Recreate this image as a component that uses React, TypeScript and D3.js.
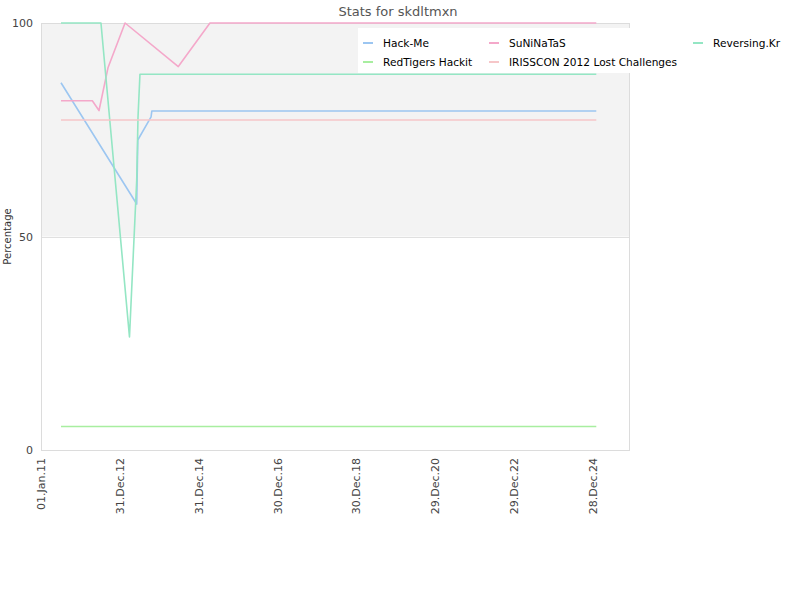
import React from "react";
import * as d3 from "d3";

const title = "Stats for skdltmxn";
const yLabel = "Percentage";
const yTicks = [0, 50, 100];
const xTickDates = ["2011-01-01", "2012-12-31", "2014-12-31", "2016-12-30", "2018-12-30", "2020-12-29", "2022-12-29", "2024-12-28"];
const xDomain = ["2011-01-01", "2025-12-05"];

const seriesNames = ["Hack-Me", "SuNiNaTaS", "Reversing.Kr", "RedTigers Hackit", "IRISSCON 2012 Lost Challenges"];
const seriesColors = ["#9cc6f1", "#f4a8ca", "#94e6c4", "#a8eea0", "#f6c6c8"];

const hackMeDates = ["2011-07-05", "2013-06-05", "2013-06-15", "2013-10-16", "2013-10-23", "2025-01-27"];
const hackMeValues = [86, 57.6, 72.6, 78, 79.4, 79.4];

const suninatasDates = ["2011-07-05", "2012-04-20", "2012-06-21", "2012-09-12", "2013-02-17", "2014-06-25", "2015-04-14", "2025-01-27"];
const suninatasValues = [81.8, 81.8, 79.5, 89.5, 100, 89.8, 100, 100];

const reversingDates = ["2011-07-05", "2012-07-09", "2013-03-30", "2013-06-05", "2013-06-17", "2013-07-05", "2025-01-27"];
const reversingValues = [100, 100, 26.5, 63.2, 78, 88, 88];

const redTigersDates = ["2011-07-05", "2025-01-27"];
const redTigersValues = [5.5, 5.5];

const irissconDates = ["2011-07-05", "2025-01-27"];
const irissconValues = [77.3, 77.3];

const seriesDates = [hackMeDates, suninatasDates, reversingDates, redTigersDates, irissconDates];
const seriesValues = [hackMeValues, suninatasValues, reversingValues, redTigersValues, irissconValues];

const parse = d3.utcParse("%Y-%m-%d");
const fmt = d3.utcFormat("%d.%b.%y");

export default function App() {
  const W = 800, H = 600;
  const left = 41, right = 630, top = 23, bottom = 450;
  const x = d3.scaleUtc().domain(xDomain.map((d) => parse(d) as Date)).range([left, right]);
  const y = d3.scaleLinear().domain([0, 100]).range([bottom, top]);
  const line = d3.line<[Date, number]>().x((d) => x(d[0])).y((d) => y(d[1]));
  const font = "'DejaVu Sans', Verdana, sans-serif";

  const legendPos = [
    { x: 363, y: 43 },
    { x: 489, y: 43 },
    { x: 693, y: 43 },
    { x: 363, y: 62 },
    { x: 489, y: 62 },
  ];

  return (
    <svg width={W} height={H} style={{ position: "absolute", left: 0, top: 0, fontFamily: font }}>
      <defs>
        <clipPath id="plotclip">
          <rect x={left} y={top - 2} width={right - left} height={bottom - top + 4} />
        </clipPath>
      </defs>
      <rect x={0} y={0} width={W} height={H} fill="#fff" />
      <rect x={left} y={y(100)} width={right - left} height={y(50) - y(100)} fill="#f3f3f3" />
      <line x1={left} x2={right} y1={Math.round(y(50)) + 0.5} y2={Math.round(y(50)) + 0.5} stroke="#e0e0e0" />
      <rect x={left + 0.5} y={top + 0.5} width={right - left - 1} height={bottom - top} fill="none" stroke="#dcdcdc" />
      <text x={W / 2 - 2} y={16} textAnchor="middle" fontSize={13} fill="#555">{title}</text>
      {yTicks.map((t) => (
        <text key={t} x={33} y={y(t) + 4} textAnchor="end" fontSize={11} fill="#444">{t}</text>
      ))}
      <text transform={`translate(11,${y(50)}) rotate(-90)`} textAnchor="middle" fontSize={10} fill="#333">{yLabel}</text>
      {xTickDates.map((s) => {
        const d = parse(s) as Date;
        const px = x(d);
        return (
          <text key={s} transform={`translate(${px + 4},458) rotate(-90)`} textAnchor="end" fontSize={11} fill="#444">
            {fmt(d)}
          </text>
        );
      })}
      <g clipPath="url(#plotclip)">
        {seriesNames.map((n, i) => {
          const pts: [Date, number][] = seriesDates[i].map((s, j) => [parse(s) as Date, seriesValues[i][j]]);
          return <path key={n} d={line(pts) || ""} fill="none" stroke={seriesColors[i]} strokeWidth={1.6} strokeLinejoin="round" />;
        })}
      </g>
      <rect x={358} y={28} width={right - 358} height={45} fill="#fff" />
      {seriesNames.map((n, i) => (
        <g key={n}>
          <line x1={legendPos[i].x} x2={legendPos[i].x + 10} y1={legendPos[i].y} y2={legendPos[i].y} stroke={seriesColors[i]} strokeWidth={2} />
          <text x={legendPos[i].x + 20} y={legendPos[i].y + 4} fontSize={10.6} fill="#000">{n}</text>
        </g>
      ))}
    </svg>
  );
}
